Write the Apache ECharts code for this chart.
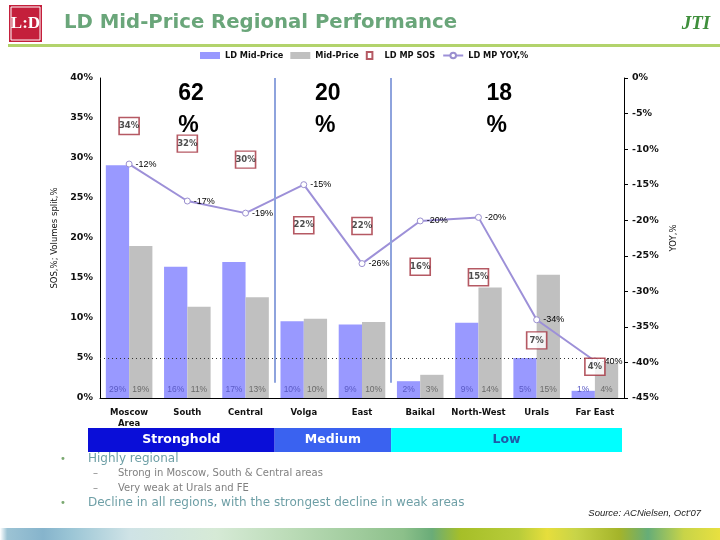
<!DOCTYPE html>
<html><head><meta charset="utf-8">
<script src="https://cdn.jsdelivr.net/npm/echarts@6/dist/echarts.min.js"></script>
<style>html,body{margin:0;padding:0;background:#fff}#c{width:720px;height:540px}</style>
</head><body><div id="c"></div>
<script>
// ---------- data ----------
const categories = ['Moscow\nArea', 'South', 'Central', 'Volga', 'East', 'Baikal', 'North-West', 'Urals', 'Far East'];
const ldMidPrice = [29.1, 16.4, 17.0, 9.6, 9.2, 2.1, 9.4, 5.0, 0.9];
const midPrice   = [19.0, 11.4, 12.6, 9.9, 9.5, 2.9, 13.8, 15.4, 4.4];
const ldMpSos    = [34.0, 31.8, 29.8, 21.6, 21.5, 16.4, 15.1, 7.2, 3.9];
const ldMpYoy    = [-12.1, -17.3, -19.0, -15.0, -26.1, -20.1, -19.6, -34.0, -39.8];
const seriesNames = ['LD Mid-Price', 'Mid-Price', 'LD MP SOS', 'LD MP YOY,%'];
const regionNames  = ['Stronghold', 'Medium', 'Low'];
const regionSpans  = [3, 2, 4];
const regionShares = ['62', '20', '18'];
const bulletMain = ['Highly regional', 'Decline in all regions, with the strongest decline in weak areas'];
const bulletSub  = ['Strong in Moscow, South & Central areas', 'Very weak at Urals and FE'];
const titleText = 'LD Mid-Price Regional Performance';
const sourceText = "Source: ACNielsen, Oct'07";

const pct = p => Math.round(p.value) + '%';
const axisFont = {fontFamily: 'DejaVu Sans', fontWeight: 'bold', fontSize: 9.5, color: '#111'};

const chart = echarts.init(document.getElementById('c'), null, {renderer: 'canvas'});
chart.setOption({
  animation: false,
  backgroundColor: '#fff',
  grid: {left: 100, right: 96, top: 78, bottom: 142},
  legend: {
    top: 51, left: 200, itemWidth: 20, itemHeight: 7, itemGap: 7, padding: 0,
    textStyle: {fontFamily: 'DejaVu Sans', fontWeight: 'bold', fontSize: 8.2, color: '#111'},
    data: [
      {name: seriesNames[0], icon: 'rect'},
      {name: seriesNames[1], icon: 'rect'},
      {name: seriesNames[2], icon: 'path://M0 0H8V10H0Z'},
      {name: seriesNames[3]}
    ]
  },
  xAxis: [
    {type: 'category', data: categories,
     axisLine: {lineStyle: {color: '#000', width: 1}},
     axisTick: {length: 4, lineStyle: {color: '#000'}},
     axisLabel: {interval: 0, margin: 9, lineHeight: 11, fontFamily: 'DejaVu Sans', fontWeight: 'bold', fontSize: 8.5, color: '#111'}},
    {type: 'value', min: 0, max: 9, show: false}
  ],
  yAxis: [
    {type: 'value', min: 0, max: 40, interval: 5, position: 'left',
     name: 'SOS,%; Volumes split,%', nameLocation: 'middle', nameGap: 40, nameRotate: 90,
     nameTextStyle: {fontFamily: 'DejaVu Sans', fontSize: 8.5, color: '#111'},
     axisLine: {show: true, lineStyle: {color: '#000'}}, axisTick: {show: false}, splitLine: {show: false},
     axisLabel: Object.assign({formatter: '{value}%', margin: 7}, axisFont)},
    {type: 'value', min: -45, max: 0, interval: 5, position: 'right',
     name: 'YOY,%', nameLocation: 'middle', nameGap: 45, nameRotate: 90,
     nameTextStyle: {fontFamily: 'DejaVu Sans', fontSize: 8.5, color: '#111'},
     axisLine: {show: true, lineStyle: {color: '#000'}}, axisTick: {show: true, length: 4, lineStyle: {color: '#000'}}, splitLine: {show: false},
     axisLabel: Object.assign({formatter: '{value}%', margin: 8}, axisFont)}
  ],
  series: [
    {name: 'helper', type: 'line', xAxisIndex: 1, yAxisIndex: 0, data: [], silent: true, z: 1,
     markLine: {silent: true, symbol: 'none', label: {show: false}, animation: false,
       data: [
         [{coord: [3, 40], lineStyle: {color: '#8ea3dd', width: 2, type: 'solid'}}, {coord: [3, 1.9]}],
         [{coord: [5, 40], lineStyle: {color: '#8ea3dd', width: 2, type: 'solid'}}, {coord: [5, 1.9]}],
         {yAxis: 5, lineStyle: {color: '#333', width: 1, type: [1, 3]}}
       ]}},
    {name: seriesNames[0], type: 'bar', data: ldMidPrice, barGap: '0%', barCategoryGap: '20%', z: 2,
     itemStyle: {color: '#9999ff'},
     label: {show: true, position: 'insideBottom', distance: 4, formatter: pct, fontFamily: 'Liberation Sans', fontSize: 8.5, color: '#5a5ac4'}},
    {name: seriesNames[1], type: 'bar', data: midPrice, z: 2,
     itemStyle: {color: '#c0c0c0'},
     label: {show: true, position: 'insideBottom', distance: 4, formatter: pct, fontFamily: 'Liberation Sans', fontSize: 8.5, color: '#6a6a6a'}},
    {name: seriesNames[3], type: 'line', yAxisIndex: 1, data: ldMpYoy, z: 4,
     symbol: 'circle', symbolSize: 6, showAllSymbol: true,
     lineStyle: {color: '#9d90d8', width: 2},
     itemStyle: {color: '#fff', borderColor: '#9a8fcf', borderWidth: 1},
     label: {show: true, position: 'right', distance: 3, formatter: pct, fontFamily: 'Liberation Sans', fontSize: 9, color: '#000'}},
    {name: seriesNames[2], type: 'scatter', yAxisIndex: 0, data: ldMpSos, z: 5,
     symbol: 'rect', symbolSize: [20, 17],
     itemStyle: {color: '#fff', borderColor: '#a3303c', borderWidth: 1.5},
     label: {show: true, position: 'inside', formatter: pct, fontFamily: 'DejaVu Sans', fontWeight: 'bold', fontSize: 8.5, color: '#222'}}
  ]
});

// ---------- annotations positioned through the hidden index axis ----------
const px = v => chart.convertToPixel({xAxisIndex: 1}, v);
const graphics = [];
// header
graphics.push({type: 'rect', shape: {x: 9, y: 5, width: 33, height: 37}, style: {fill: '#c41f3b'}});
graphics.push({type: 'rect', shape: {x: 11, y: 7, width: 29, height: 33}, style: {fill: 'none', stroke: '#fff', lineWidth: 1}});
graphics.push({type: 'text', x: 25.5, y: 24, style: {text: 'L:D', fill: '#fff', font: 'bold 17px "Liberation Serif"', align: 'center', verticalAlign: 'middle'}});
graphics.push({type: 'text', x: 64, y: 23, style: {text: titleText, fill: '#6aa67a', font: 'bold 19.7px "DejaVu Sans"', verticalAlign: 'middle'}});
graphics.push({type: 'text', x: 696, y: 24, style: {text: 'JTI', fill: '#3f8f3c', font: 'italic bold 19px "Liberation Serif"', align: 'center', verticalAlign: 'middle'}});
graphics.push({type: 'rect', shape: {x: 8, y: 44, width: 712, height: 3}, style: {fill: '#b2d36c'}});
// region band + shares
let start = 0;
const bandColors = ['#0a0ed8', '#3a62f0', '#00ffff'];
const bandText = ['#fff', '#fff', '#1f5aa8'];
const shareOffsets = [-9, -18, -21];
regionNames.forEach((nm, i) => {
  const x0 = px(start) - (i === 0 ? 12 : 0), x1 = px(start + regionSpans[i]) - (i === 2 ? 2 : 0);
  graphics.push({type: 'rect', shape: {x: x0, y: 428, width: x1 - x0, height: 24}, style: {fill: bandColors[i]}});
  graphics.push({type: 'text', x: (x0 + x1) / 2, y: 440, style: {text: nm, fill: bandText[i], font: 'bold 12.5px "DejaVu Sans"', align: 'center', verticalAlign: 'middle'}});
  const cx = (px(start) + px(start + regionSpans[i])) / 2;
  graphics.push({type: 'text', x: cx + shareOffsets[i], y: 78, style: {text: regionShares[i] + '\n%', fill: '#000', font: 'bold 23px "Liberation Sans"', lineHeight: 32, align: 'left', verticalAlign: 'top'}});
  start += regionSpans[i];
});
// bullets
graphics.push({type: 'text', x: 60, y: 459, style: {text: '•', fill: '#7aa870', font: '10px "DejaVu Sans"', verticalAlign: 'middle'}});
graphics.push({type: 'text', x: 88, y: 459, style: {text: bulletMain[0], fill: '#6e9fa6', font: '12px "DejaVu Sans"', verticalAlign: 'middle'}});
graphics.push({type: 'text', x: 93, y: 473, style: {text: '–', fill: '#888', font: '10px "DejaVu Sans"', verticalAlign: 'middle'}});
graphics.push({type: 'text', x: 118, y: 473, style: {text: bulletSub[0], fill: '#808080', font: '10px "DejaVu Sans"', verticalAlign: 'middle'}});
graphics.push({type: 'text', x: 93, y: 488, style: {text: '–', fill: '#888', font: '10px "DejaVu Sans"', verticalAlign: 'middle'}});
graphics.push({type: 'text', x: 118, y: 488, style: {text: bulletSub[1], fill: '#808080', font: '10px "DejaVu Sans"', verticalAlign: 'middle'}});
graphics.push({type: 'text', x: 60, y: 503, style: {text: '•', fill: '#7aa870', font: '10px "DejaVu Sans"', verticalAlign: 'middle'}});
graphics.push({type: 'text', x: 88, y: 503, style: {text: bulletMain[1], fill: '#6e9fa6', font: '12px "DejaVu Sans"', verticalAlign: 'middle'}});
graphics.push({type: 'text', x: 701, y: 513, style: {text: sourceText, fill: '#222', font: 'italic 9.5px "Liberation Sans"', align: 'right', verticalAlign: 'middle'}});
// footer strip
graphics.push({type: 'rect', shape: {x: 0, y: 528, width: 720, height: 12}, style: {fill: new echarts.graphic.LinearGradient(0, 0, 1, 0, [
  {offset: 0, color: '#ffffff'}, {offset: 0.01, color: '#9cc3d4'}, {offset: 0.06, color: '#86b4cc'},
  {offset: 0.1, color: '#9cc6d6'}, {offset: 0.18, color: '#cfe3e6'}, {offset: 0.3, color: '#d6ead6'},
  {offset: 0.4, color: '#bcdcb8'}, {offset: 0.5, color: '#9fcb9c'}, {offset: 0.56, color: '#8cc08a'},
  {offset: 0.6, color: '#6aac78'}, {offset: 0.64, color: '#a6bf28'}, {offset: 0.72, color: '#b8cc3a'},
  {offset: 0.76, color: '#e6de3c'}, {offset: 0.8, color: '#c8d448'}, {offset: 0.86, color: '#a4b42a'},
  {offset: 0.9, color: '#66ad78'}, {offset: 0.95, color: '#c8d448'}, {offset: 1, color: '#e8e040'}
])}});
chart.setOption({graphic: graphics});
</script>
</body></html>
